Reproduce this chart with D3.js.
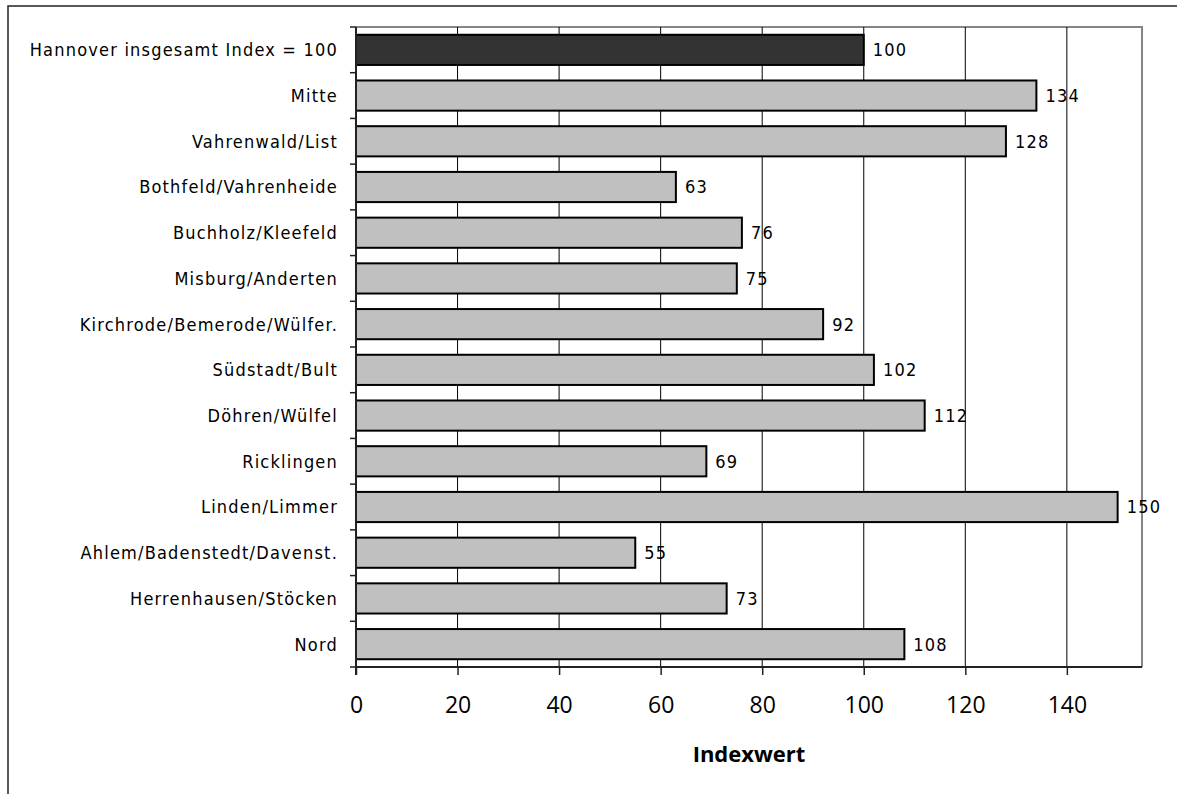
<!DOCTYPE html>
<html>
<head>
<meta charset="utf-8">
<script src="https://cdn.jsdelivr.net/npm/d3@7"></script>
<style>
  html, body { margin: 0; padding: 0; background: #fff; }
  svg { display: block; }
  .cat { font-family: "DejaVu Sans Condensed", sans-serif; font-size: 18px; letter-spacing: 1.2px; fill: #000; }
  .val { font-family: "DejaVu Sans Condensed", sans-serif; font-size: 18px; letter-spacing: 1.2px; fill: #000; }
  .tick-x { font-family: "Open Sans", sans-serif; font-size: 23px; fill: #000; }
  .xtitle { font-family: "Open Sans", sans-serif; font-size: 22px; font-weight: bold; fill: #000; }
</style>
</head>
<body>
<svg id="chart" width="1177" height="794"></svg>
<script>
// Stadtbezirke Hannover, Indexwerte (Hannover insgesamt = 100)
const districts = [
  "Hannover insgesamt Index = 100",
  "Mitte",
  "Vahrenwald/List",
  "Bothfeld/Vahrenheide",
  "Buchholz/Kleefeld",
  "Misburg/Anderten",
  "Kirchrode/Bemerode/Wülfer.",
  "Südstadt/Bult",
  "Döhren/Wülfel",
  "Ricklingen",
  "Linden/Limmer",
  "Ahlem/Badenstedt/Davenst.",
  "Herrenhausen/Stöcken",
  "Nord"
];
const indexValues = [100, 134, 128, 63, 76, 75, 92, 102, 112, 69, 150, 55, 73, 108];
const xTicks = [0, 20, 40, 60, 80, 100, 120, 140];
const xTitle = "Indexwert";

const svg = d3.select("#chart");

// outer frame of the chart object
svg.append("rect")
  .attr("x", 8).attr("y", 6)
  .attr("width", 1200).attr("height", 820)
  .attr("fill", "none").attr("stroke", "#222").attr("stroke-width", 1.5);

const plot = { left: 356, right: 1142, top: 27, bottom: 667 };

const x = d3.scaleLinear().domain([0, 154.8]).range([plot.left, plot.right]);
const y = d3.scaleBand().domain(districts)
  .range([plot.top, plot.bottom])
  .paddingInner(0.34).paddingOuter(0.17);

// plot area frame (top and right edge)
svg.append("path")
  .attr("d", `M${plot.left},${plot.top}H${plot.right}V${plot.bottom}`)
  .attr("fill", "none").attr("stroke", "#858585").attr("stroke-width", 2);

// vertical gridlines
svg.append("g").selectAll("line")
  .data(xTicks.filter(t => t > 0))
  .join("line")
  .attr("x1", d => x(d)).attr("x2", d => x(d))
  .attr("y1", plot.top).attr("y2", plot.bottom)
  .attr("stroke", "#000").attr("stroke-width", 1);

// bars
svg.append("g").selectAll("rect")
  .data(districts)
  .join("rect")
  .attr("x", x(0))
  .attr("y", d => y(d))
  .attr("width", (d, i) => x(indexValues[i]) - x(0))
  .attr("height", y.bandwidth())
  .attr("fill", (d, i) => i === 0 ? "#333333" : "#c0c0c0")
  .attr("stroke", "#000").attr("stroke-width", 2);

// value labels
svg.append("g").selectAll("text")
  .data(districts)
  .join("text")
  .attr("class", "val")
  .attr("x", (d, i) => x(indexValues[i]) + 9)
  .attr("y", d => y(d) + y.bandwidth() / 2)
  .attr("dy", "0.36em")
  .text((d, i) => indexValues[i]);

// x axis
const xAxis = d3.axisBottom(x).tickValues(xTicks).tickSize(8).tickPadding(22).tickFormat(d3.format("d"));
const gx = svg.append("g").attr("transform", `translate(0,${plot.bottom})`).call(xAxis);
gx.select(".domain").attr("stroke", "#222").attr("stroke-width", 2)
  .attr("d", `M${plot.left},0H${plot.right}`);
gx.selectAll(".tick line").attr("stroke", "#222").attr("stroke-width", 1.5);
gx.selectAll(".tick text").attr("class", "tick-x").attr("font-family", null).attr("font-size", null);

// y axis line and category separators
const gy = svg.append("g");
gy.append("line")
  .attr("x1", plot.left).attr("x2", plot.left)
  .attr("y1", plot.top).attr("y2", plot.bottom + 8)
  .attr("stroke", "#222").attr("stroke-width", 2);
const bounds = districts.map(d => y(d) - y.step() * y.paddingInner() / 2).concat([plot.bottom]);
bounds[0] = plot.top;
gy.selectAll("line.sep")
  .data(bounds)
  .join("line")
  .attr("class", "sep")
  .attr("x1", plot.left - 6).attr("x2", plot.left)
  .attr("y1", d => d).attr("y2", d => d)
  .attr("stroke", "#222").attr("stroke-width", 1.5);

// category labels
svg.append("g").selectAll("text")
  .data(districts)
  .join("text")
  .attr("class", "cat")
  .attr("x", 338)
  .attr("y", d => y(d) + y.bandwidth() / 2)
  .attr("dy", "0.36em")
  .attr("text-anchor", "end")
  .text(d => d);

// axis title
svg.append("text")
  .attr("class", "xtitle")
  .attr("x", (plot.left + plot.right) / 2)
  .attr("y", 762)
  .attr("text-anchor", "middle")
  .text(xTitle);
</script>
</body>
</html>
